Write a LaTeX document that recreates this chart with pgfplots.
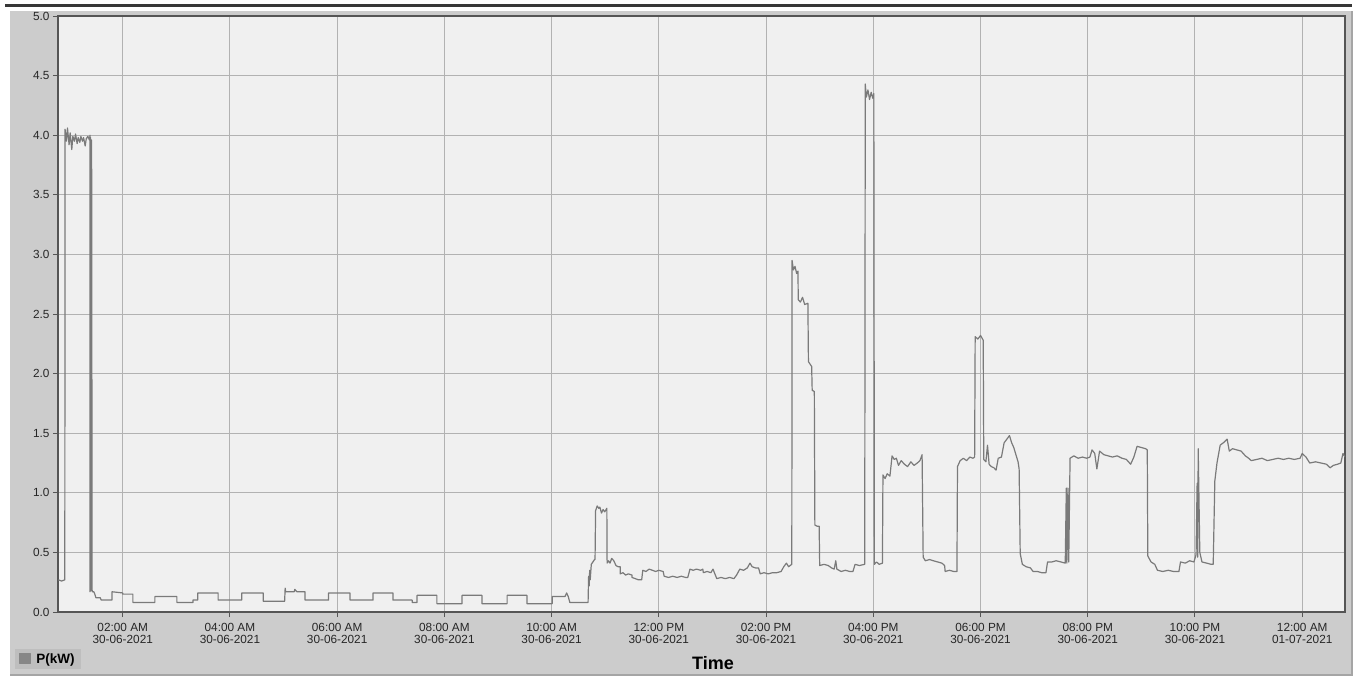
\documentclass[border=0pt]{standalone}
\usepackage{pgfplots}
\pgfplotsset{compat=1.18}
\usepackage{fontspec}
\setmainfont{Liberation Sans}
\definecolor{panelgray}{RGB}{204,204,204}
\definecolor{shadowgray}{RGB}{165,165,165}
\definecolor{topline}{RGB}{55,55,55}
\definecolor{plotbg}{RGB}{240,240,240}
\definecolor{gridgray}{RGB}{178,178,178}
\definecolor{axisdark}{RGB}{85,85,85}
\definecolor{seriesgray}{RGB}{122,122,122}
\definecolor{legbg}{RGB}{190,190,190}
\definecolor{legsq}{RGB}{135,135,135}
\begin{document}
\begin{tikzpicture}
\useasboundingbox (0pt,0pt) rectangle (1359pt,-681pt);
\fill[white] (0pt,0pt) rectangle (1359pt,-681pt);
\fill[panelgray] (10pt,-11pt) rectangle (1352pt,-675pt);
\draw[shadowgray, line width=1.5pt] (1352pt,-11pt) -- (1352pt,-675pt) -- (10pt,-675pt);
\draw[topline, line width=3pt] (5pt,-5pt) -- (1352pt,-5pt);
\begin{axis}[
  at={(58pt,-612pt)}, anchor=south west,
  scale only axis, width=1287pt, height=596pt,
  xmin=0.793, xmax=24.798, ymin=0, ymax=5,
  axis background/.style={fill=plotbg},
  grid=major, major grid style={gridgray, line width=1pt},
  axis line style={axisdark, line width=1.5pt},
  tick align=outside, major tick length=5pt,
  tick style={axisdark, line width=1pt},
  xtick pos=bottom, ytick pos=left,
  xtick={2,4,6,8,10,12,14,16,18,20,22,24},
  xticklabels={{02:00 AM\\30-06-2021},{04:00 AM\\30-06-2021},{06:00 AM\\30-06-2021},{08:00 AM\\30-06-2021},{10:00 AM\\30-06-2021},{12:00 PM\\30-06-2021},{02:00 PM\\30-06-2021},{04:00 PM\\30-06-2021},{06:00 PM\\30-06-2021},{08:00 PM\\30-06-2021},{10:00 PM\\30-06-2021},{12:00 AM\\01-07-2021}},
  xticklabel style={align=center, font=\fontsize{11.8}{12}\selectfont, text=black!85, yshift=-3pt},
  ytick={0,0.5,1,1.5,2,2.5,3,3.5,4,4.5,5},
  yticklabels={0.0,0.5,1.0,1.5,2.0,2.5,3.0,3.5,4.0,4.5,5.0},
  yticklabel style={font=\fontsize{11.8}{12}\selectfont, text=black!85},
  xlabel={Time},
  xlabel style={at={(axis description cs:0.509,0)}, anchor=center, yshift=-51pt, font=\fontsize{18}{18}\selectfont\bfseries},
  legend style={at={(-0.0334,-0.0621)}, anchor=north west, fill=legbg, draw=none, inner xsep=4pt, inner ysep=2pt, font=\fontsize{13.5}{14}\selectfont\bfseries},
  legend image code/.code={\fill[legsq] (0pt,-5pt) rectangle (10.5pt,5.5pt); \path (14pt,0pt);},
]
\addplot[seriesgray, line width=1.2pt, line join=round] coordinates {
(0.80,0.27) (0.86,0.26) (0.92,0.27)
(0.925,4.05) (0.95,3.95) (0.97,4.06) (1.00,3.92) (1.02,4.02) (1.05,3.88) (1.07,3.99) (1.10,3.95) (1.12,4.01) (1.15,3.93) (1.17,3.98) (1.20,3.94) (1.22,3.99) (1.25,3.95) (1.27,3.98) (1.30,3.91) (1.32,3.97) (1.35,3.99) (1.38,3.96) (1.39,4.00)
(1.39,0.17) (1.40,3.98) (1.41,0.18) (1.42,3.96) (1.43,0.17)
(1.46,0.17) (1.48,0.15) (1.50,0.12) (1.58,0.12) (1.60,0.10) (1.80,0.10)
(1.80,0.17) (2.00,0.16) (2.00,0.15) (2.19,0.15) (2.19,0.08) (2.60,0.08)
(2.60,0.13) (3.01,0.13) (3.01,0.08) (3.31,0.08) (3.31,0.10) (3.40,0.10)
(3.40,0.16) (3.78,0.16) (3.78,0.10) (4.22,0.10) (4.22,0.16) (4.62,0.16)
(4.62,0.09) (5.02,0.09) (5.03,0.20) (5.04,0.17) (5.20,0.17) (5.21,0.19) (5.25,0.17) (5.40,0.17)
(5.40,0.10) (5.84,0.10) (5.84,0.16) (6.24,0.16) (6.24,0.10) (6.67,0.10)
(6.67,0.16) (7.04,0.16) (7.04,0.10) (7.40,0.10) (7.40,0.08) (7.49,0.08)
(7.49,0.14) (7.86,0.14) (7.86,0.07) (8.33,0.07) (8.33,0.14) (8.70,0.14)
(8.70,0.07) (9.17,0.07) (9.17,0.14) (9.54,0.14) (9.54,0.07) (10.01,0.07)
(10.01,0.13) (10.25,0.13) (10.28,0.16) (10.31,0.13) (10.34,0.08) (10.68,0.08)
(10.69,0.30) (10.70,0.22) (10.71,0.35) (10.72,0.27) (10.74,0.40) (10.77,0.42) (10.80,0.44) (10.81,0.44)
(10.82,0.85) (10.85,0.89) (10.88,0.87) (10.90,0.88) (10.93,0.83) (10.96,0.86) (10.99,0.84) (11.03,0.87)
(11.035,0.41) (11.06,0.43) (11.09,0.41) (11.12,0.45) (11.16,0.43) (11.20,0.39) (11.24,0.38) (11.28,0.38)
(11.28,0.32) (11.33,0.33) (11.38,0.31) (11.43,0.32) (11.50,0.31)
(11.50,0.29) (11.56,0.28) (11.62,0.27) (11.68,0.27)
(11.70,0.35) (11.76,0.34) (11.82,0.36) (11.88,0.35) (11.94,0.34) (12.00,0.35) (12.08,0.34)
(12.10,0.30) (12.18,0.29) (12.26,0.30) (12.34,0.29) (12.42,0.30) (12.50,0.29) (12.54,0.29)
(12.58,0.36) (12.64,0.35) (12.70,0.36) (12.78,0.35) (12.82,0.36) (12.83,0.33) (12.90,0.34) (12.97,0.33) (13.01,0.36)
(13.08,0.28) (13.16,0.29) (13.24,0.28) (13.32,0.29) (13.40,0.28) (13.45,0.31) (13.51,0.36) (13.58,0.35) (13.65,0.37) (13.70,0.41) (13.74,0.38) (13.80,0.37) (13.86,0.37)
(13.89,0.32) (13.96,0.33) (14.04,0.32) (14.12,0.33) (14.20,0.33) (14.28,0.34) (14.33,0.38) (14.38,0.41) (14.42,0.38) (14.48,0.40)
(14.485,2.95) (14.51,2.87) (14.54,2.90) (14.57,2.84) (14.595,2.86)
(14.60,2.62) (14.64,2.60) (14.68,2.64) (14.72,2.58) (14.78,2.59)
(14.79,2.10) (14.82,2.08) (14.85,2.06)
(14.86,1.86) (14.90,1.85)
(14.91,0.73) (14.95,0.72) (14.99,0.72)
(15.00,0.39) (15.08,0.40) (15.16,0.39) (15.22,0.37) (15.27,0.36) (15.30,0.43) (15.32,0.36) (15.40,0.34) (15.48,0.35) (15.56,0.34) (15.62,0.34) (15.66,0.40) (15.74,0.39) (15.84,0.40)
(15.85,4.43) (15.87,4.32) (15.90,4.38) (15.93,4.30) (15.96,4.36) (15.99,4.31) (16.01,4.35)
(16.02,0.40) (16.06,0.42) (16.11,0.40) (16.17,0.41)
(16.18,1.15) (16.22,1.12) (16.26,1.16) (16.31,1.14) (16.35,1.31) (16.39,1.28) (16.43,1.29) (16.47,1.23) (16.52,1.27) (16.58,1.24) (16.64,1.22) (16.70,1.26) (16.76,1.23) (16.82,1.25) (16.87,1.27) (16.91,1.32)
(16.93,0.46) (16.97,0.43) (17.05,0.44) (17.12,0.43) (17.20,0.42) (17.28,0.41) (17.33,0.39)
(17.34,0.34) (17.42,0.35) (17.50,0.34) (17.56,0.34)
(17.57,1.22) (17.62,1.27) (17.68,1.29) (17.74,1.27) (17.80,1.30) (17.86,1.29) (17.89,1.30)
(17.90,2.31) (17.95,2.29) (18.00,2.32) (18.05,2.28)
(18.06,1.28) (18.10,1.26) (18.13,1.40) (18.16,1.24) (18.20,1.22) (18.25,1.21) (18.29,1.19) (18.33,1.29) (18.39,1.30) (18.44,1.42) (18.49,1.45) (18.54,1.48) (18.58,1.42) (18.62,1.38) (18.66,1.32) (18.70,1.26) (18.72,1.20)
(18.74,0.49) (18.78,0.40) (18.85,0.38) (18.93,0.37) (18.98,0.34) (19.06,0.34) (19.14,0.33) (19.22,0.33)
(19.25,0.42) (19.33,0.42) (19.41,0.43) (19.50,0.42) (19.58,0.41) (19.60,1.04) (19.61,0.41) (19.63,1.04) (19.645,0.42)
(19.67,1.29) (19.74,1.31) (19.82,1.29) (19.90,1.30) (19.98,1.29) (20.04,1.30) (20.08,1.36) (20.13,1.33) (20.17,1.20) (20.22,1.35) (20.30,1.32) (20.38,1.31) (20.46,1.30) (20.55,1.31) (20.64,1.29) (20.72,1.28) (20.80,1.24) (20.86,1.30) (20.92,1.39) (21.00,1.38) (21.08,1.37) (21.11,1.36)
(21.12,0.47) (21.18,0.42) (21.25,0.40) (21.30,0.35) (21.40,0.34) (21.50,0.35) (21.60,0.34) (21.70,0.34)
(21.73,0.42) (21.82,0.41) (21.90,0.43) (21.98,0.42) (22.02,0.48) (22.04,1.08) (22.05,0.46) (22.06,1.37) (22.09,0.50) (22.13,0.42) (22.22,0.41) (22.30,0.40) (22.34,0.40)
(22.37,1.10) (22.41,1.25) (22.47,1.40) (22.53,1.42) (22.60,1.45) (22.64,1.35) (22.70,1.37) (22.78,1.36) (22.86,1.35) (22.94,1.31) (23.00,1.29) (23.05,1.27) (23.15,1.28) (23.25,1.29) (23.35,1.27) (23.45,1.28) (23.55,1.29) (23.65,1.28) (23.75,1.29) (23.85,1.28) (23.96,1.29) (24.00,1.33) (24.07,1.30) (24.14,1.25) (24.25,1.26) (24.35,1.25) (24.45,1.24) (24.52,1.21) (24.58,1.23) (24.66,1.24) (24.72,1.25) (24.76,1.33) (24.80,1.30)
};
\addlegendentry{P(kW)}
\end{axis}
\end{tikzpicture}
\end{document}
